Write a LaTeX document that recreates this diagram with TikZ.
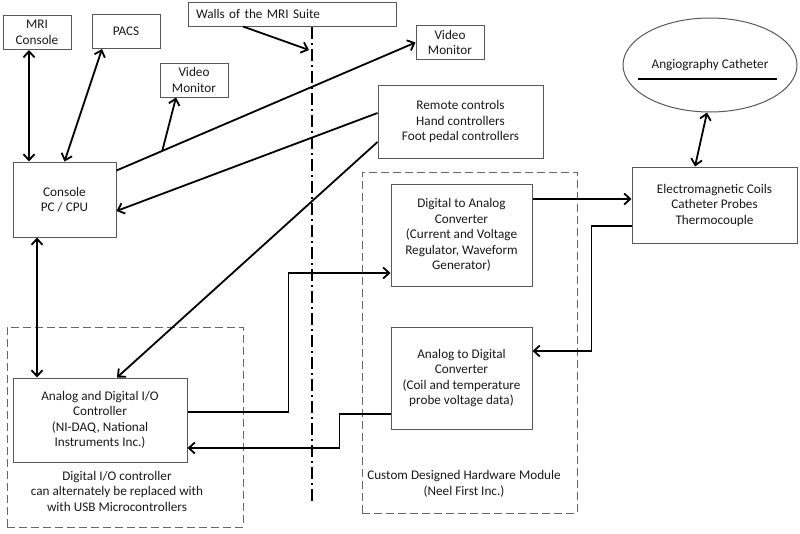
\documentclass[tikz,border=0pt]{standalone}
\usepackage{fontspec}
\setmainfont{Carlito}
\usetikzlibrary{arrows.meta,shapes.geometric}

\tikzset{
  box/.style={draw=black!65, line width=1pt, fill=white, align=center, inner sep=2pt},
  smallbox/.style={box, minimum width=68pt, minimum height=34pt},
  grpbox/.style={draw=black!60, line width=1pt, dash pattern=on 8pt off 4pt, minimum width=#1},
  wire/.style={line width=1.8pt},
  arr/.style={wire, -{Straight Barb[length=6pt,width=11pt]}},
  dbl/.style={wire, {Straight Barb[length=6pt,width=11pt]}-{Straight Barb[length=6pt,width=11pt]}},
}

\begin{document}
\begin{tikzpicture}[x=1pt, y=-1pt, font=\fontsize{13.2pt}{15.5pt}\selectfont, text=black!90]
    \useasboundingbox (0,0) rectangle (800,533);

    % Dashed groups
    \node[grpbox=236pt, minimum height=200pt] (grpio) at (125,427) {};
    \node[grpbox=215pt, minimum height=341pt] (grphw) at (469.5,342.5) {};
    \node (noteio) at (117,491) [align=center] {Digital I/O controller\\can alternately be replaced with\\with USB Microcontrollers};
    \node (notehw) at (464,484) [align=center] {Custom Designed Hardware Module\\(Neel First Inc.)};

    % Wall of the suite
    \coordinate (walltop) at (312,27);
    \coordinate (wallbot) at (312,503);
    \coordinate (wallpt) at (309,50);
    \draw[line width=1.8pt, dash pattern=on 12pt off 4pt on 2pt off 4pt] (walltop) -- (wallbot);
    \node[box, text width=192pt, inner xsep=8pt, minimum height=24pt, align=left] (walls) at (292,14) {Walls of the MRI Suite};

    % Small boxes
    \foreach \n/\p/\t in {mri/{37,32.5}/{MRI\\Console}, pacs/{126,31.5}/PACS, vidA/{194,80}/{Video\\Monitor}, vidB/{450,42.5}/{Video\\Monitor}}
        \node[smallbox] (\n) at (\p) {\t};

    % Main boxes
    \node[box, minimum width=103pt, minimum height=75pt] (console) at (64.5,199.5) {Console\\PC / CPU};
    \node[box, minimum width=165pt, minimum height=73pt] (remote) at (460.5,121.5) {Remote controls\\Hand controllers\\Foot pedal controllers};
    \node[box, ellipse, minimum width=174pt, minimum height=94pt] (cath) at (710,65) {Angiography Catheter};
    \node[box, minimum width=165pt, minimum height=76pt] (coils) at (714.5,205) {Electromagnetic Coils\\Catheter Probes\\Thermocouple};
    \node[box, minimum width=141pt, minimum height=102pt] (dac) at (461.5,235) {Digital to Analog\\Converter\\(Current and Voltage\\Regulator, Waveform\\Generator)};
    \node[box, minimum width=141pt, minimum height=102pt] (adc) at (461.5,378) {Analog to Digital\\Converter\\(Coil and temperature\\probe voltage data)};
    \node[box, minimum width=174pt, minimum height=84pt] (daq) at (100,420) {Analog and Digital I/O\\Controller\\(NI-DAQ, National\\Instruments Inc.)};
    \draw[line width=1.8pt] ([xshift=-72pt,yshift=-14pt]cath.center) -- ([xshift=67pt,yshift=-14pt]cath.center);

    % Connectors
    \draw[arr] ([xshift=-49pt]walls.south) -- (wallpt);
    \draw[dbl] ([xshift=-8pt]mri.south) -- ([xshift=-8pt]mri.south |- console.north);
    \draw[dbl] ([xshift=-24pt]pacs.south) -- (console.north);
    \draw[arr] ([yshift=-9pt]console.north east) -- coordinate[pos=0.153] (br) (vidB.west);
    \draw[arr] (br) -- ([xshift=-18pt]vidA.south);
    \draw[arr] ([yshift=8.5pt]remote.west) -- ([yshift=-11.5pt]console.east);
    \draw[arr] ([yshift=-20.5pt]remote.west) -- ([xshift=17pt]daq.north);
    \draw[dbl] ([xshift=-27.5pt]console.south) -- ([xshift=-27.5pt]console.south |- daq.north);
    \draw[dbl] ([xshift=-3pt]cath.south) -- ([xshift=-19.5pt]coils.north);
    \draw[arr] ([yshift=8pt]daq.east) -- ++(101,0) |- ([yshift=-38pt]dac.west);
    \draw[arr] ([yshift=36pt]dac.east) -- ([yshift=36pt]dac.east -| coils.west);
    \draw[arr] ([yshift=-21pt]coils.west) -- ++(-40,0) |- ([yshift=27pt]adc.east);
    \draw[arr] ([yshift=-36pt]adc.west) -- ++(-51,0) |- ([yshift=-28pt]daq.east);
\end{tikzpicture}
\end{document}
